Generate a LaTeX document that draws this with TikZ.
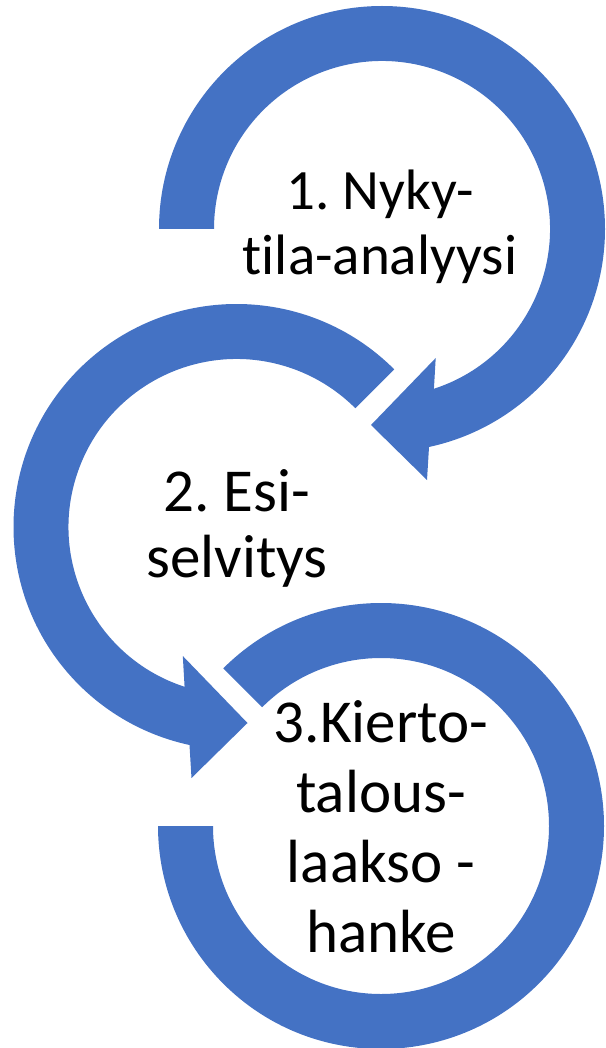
\documentclass[tikz,border=0pt]{standalone}
\usepackage{fontspec}
\setmainfont{Carlito}[Ligatures=NoCommon]
\definecolor{ringblue}{HTML}{4472C4}
\frenchspacing
\begin{document}
\begin{tikzpicture}[x=1pt,y=1pt,
  ring/.style={fill=ringblue},
  steplabel/.style={align=center,inner sep=0pt,anchor=base,text=black}]
\useasboundingbox (0,0) rectangle (605,-1048);
% centres of the three circular arrows
\coordinate (c1) at (382,-229);
\coordinate (c2) at (236.5,-527);
\coordinate (c3) at (381,-826);

% arrow 1: from the left, clockwise over the top, head pointing left at the bottom
\begin{scope}[shift={(c1)}]
  \fill[ring] (180:223) arc[start angle=180,end angle=-77.83,radius=223]
    -- (45,-251) -- (-11,-196) -- (53.7,-129) -- (-72:168)
    arc[start angle=-72,end angle=180,radius=168] -- cycle;
\end{scope}

% arrow 2: from the upper right, anticlockwise, head pointing right at the bottom
\begin{scope}[shift={(c2)}]
  \fill[ring] (45:223) arc[start angle=45,end angle=257.83,radius=223]
    -- (-45,-251) -- (11,-196) -- (-53.7,-129) -- (252:168)
    arc[start angle=252,end angle=45,radius=168] -- cycle;
\end{scope}

% arrow 3: from the upper left, clockwise, ending flat on the left
\begin{scope}[shift={(c3)}]
  \fill[ring] (135:223) arc[start angle=135,end angle=-180,radius=223]
    -- (180:168) arc[start angle=-180,end angle=135,radius=168] -- cycle;
\end{scope}

% labels; the base anchor sits on the last line's baseline
\node[steplabel,font=\fontsize{57}{65}\selectfont] (t1) at (380,-275)
  {1. Nyky-\\tila-analyysi};
\node[steplabel,font=\fontsize{61}{66}\selectfont] (t2) at (237,-577)
  {2. Esi-\\selvitys};
\node[steplabel,font=\fontsize{61}{70}\selectfont] (t3) at (381,-952)
  {3.Kierto-\\talous-\\laakso -\\hanke};
\end{tikzpicture}
\end{document}
